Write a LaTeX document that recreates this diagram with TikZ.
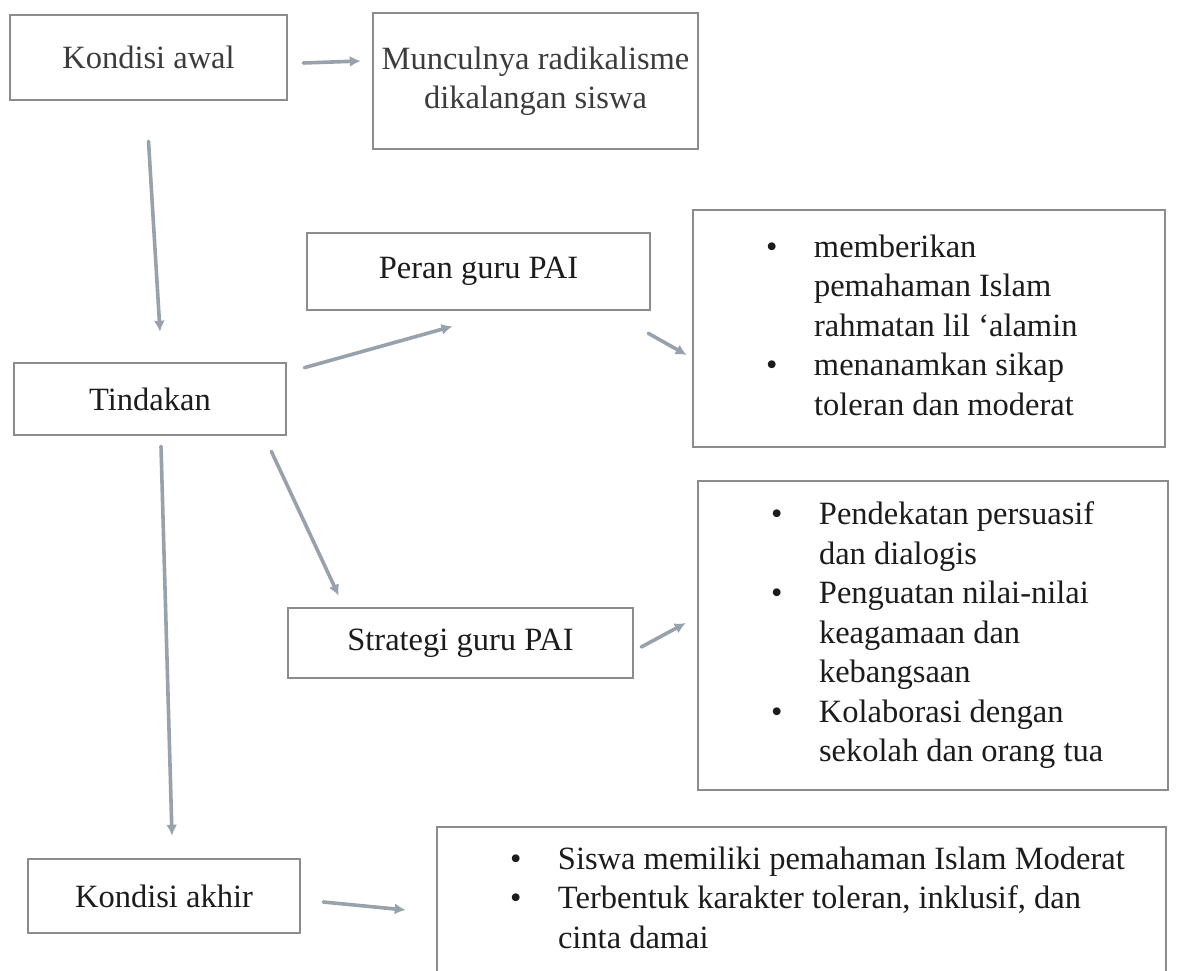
\documentclass[tikz,border=0pt]{standalone}
\usepackage{fontspec}
\setmainfont{Liberation Serif}
\usetikzlibrary{arrows.meta}
\definecolor{boxline}{RGB}{140,140,140}
\definecolor{arrline}{RGB}{152,162,172}
\definecolor{ink}{RGB}{28,28,28}
\definecolor{softink}{RGB}{60,60,60}
\newcommand{\bulletbox}[2]{\makebox[#1][l]{\hspace*{73pt}\begin{tabular}{@{}p{48pt}@{}l@{}}#2\end{tabular}}}
\begin{document}
\begin{tikzpicture}[x=1pt,y=-1pt,
  box/.style={draw=boxline, line width=2.6pt, inner sep=0pt, fill=white, text=ink,
    font=\fontsize{32.5}{39.5}\selectfont},
  arr/.style={draw=arrline, line width=3.6pt, line cap=round,
    -{Latex[length=11pt,width=11pt]}}]
\useasboundingbox (0,0) rectangle (1178,971);
\clip (0,0) rectangle (1178,971);
\fill[white] (0,0) rectangle (1178,971);

\node[box, minimum width=277pt, minimum height=85pt, text=softink] (awal) at (148.5,57.5) {Kondisi awal};
\node[box, minimum width=325pt, minimum height=136pt, align=center, text=softink] (muncul) at (535.5,81) {Munculnya radikalisme\\dikalangan siswa};
\node[box, minimum width=343pt, minimum height=77pt] (peran) at (478.5,271.5) {Peran guru PAI};
\node[box, minimum width=472pt, minimum height=237pt] (box1) at (929,328.5)
  {\bulletbox{472pt}{\textbullet & memberikan\\ & pemahaman Islam\\ & rahmatan lil ‘alamin\\ \textbullet & menanamkan sikap\\ & toleran dan moderat}};
\node[box, minimum width=272pt, minimum height=72pt] (tind) at (150,399) {Tindakan};
\node[box, minimum width=345pt, minimum height=70pt] (strat) at (460.5,643) {Strategi guru PAI};
\node[box, minimum width=470pt, minimum height=309pt] (box2) at (933,635.5)
  {\bulletbox{470pt}{\textbullet & Pendekatan persuasif\\ & dan dialogis\\ \textbullet & Penguatan nilai-nilai\\ & keagamaan dan\\ & kebangsaan\\ \textbullet & Kolaborasi dengan\\ & sekolah dan orang tua}};
\node[box, minimum width=272pt, minimum height=74pt] (akhir) at (164,896) {Kondisi akhir};
\node[box, minimum width=729pt, minimum height=148pt] (box3) at (801.5,901)
  {\bulletbox{729pt}{\textbullet & Siswa memiliki pemahaman Islam Moderat\\ \textbullet & Terbentuk karakter toleran, inklusif, dan\\ & cinta damai}};

\draw[arr] ([xshift=15pt,yshift=-5.5pt]awal.east) -- ([xshift=-11pt,yshift=20pt]muncul.west);
\draw[arr] ([yshift=-40pt]awal.south) -- ([xshift=10pt,yshift=30pt]tind.north);
\draw[arr] ([xshift=17pt,yshift=-6pt]tind.north east) -- ([xshift=-26pt,yshift=-15pt]peran.south);
\draw[arr] ([xshift=-3pt,yshift=-22pt]peran.south east) -- ([xshift=-5pt,yshift=-26.5pt]box1.west);
\draw[arr] ([xshift=-16pt,yshift=-15pt]tind.south east) -- ([xshift=52pt,yshift=11pt]strat.north west);
\draw[arr] ([xshift=11pt,yshift=-10pt]tind.south) -- ([xshift=8pt,yshift=22pt]akhir.north);
\draw[arr] ([xshift=7pt,yshift=-4pt]strat.east) -- ([xshift=-11pt,yshift=12.5pt]box2.west);
\draw[arr] ([xshift=22pt,yshift=-6pt]akhir.east) -- ([xshift=-30pt,yshift=-9pt]box3.west);
\end{tikzpicture}
\end{document}
